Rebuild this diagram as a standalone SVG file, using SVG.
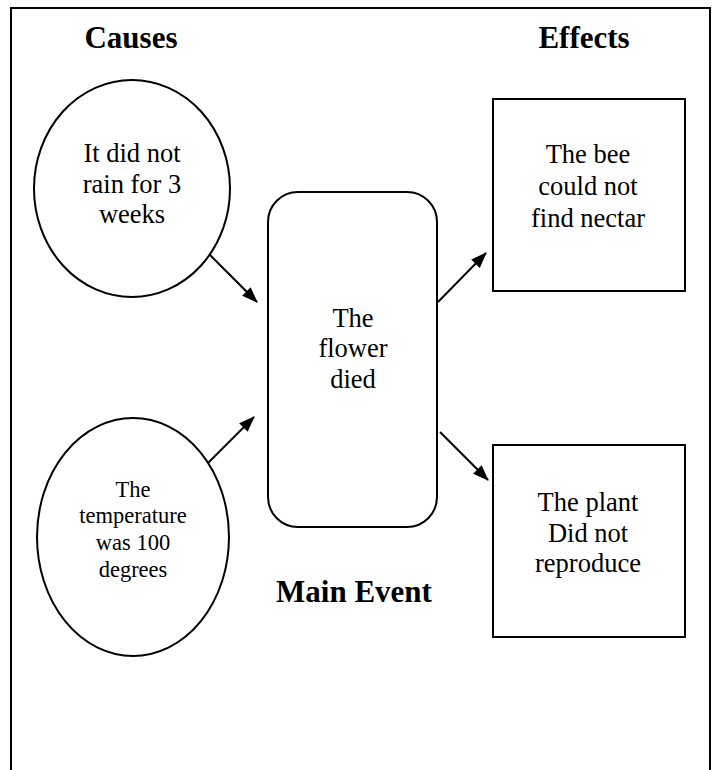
<svg xmlns="http://www.w3.org/2000/svg" width="713" height="770" viewBox="0 0 713 770">
<defs>
<marker id="ah" viewBox="0 0 16 12" refX="15" refY="6" markerWidth="16" markerHeight="12" markerUnits="userSpaceOnUse" orient="auto">
<path d="M0,0 L16,6 L0,12 z" fill="#000"/>
</marker>
<style>
.shape{fill:#fff;stroke:#000;stroke-width:2}
.t{fill:#000;text-anchor:middle}
.body{font-size:26.5px}
.small{font-size:22.5px}
.head{font-size:31px;font-weight:bold}
.conn{stroke:#000;stroke-width:2;fill:none;marker-end:url(#ah)}
</style>
</defs>
<rect width="713" height="770" fill="#fff"/>
<path d="M11,775 L11,8 L710,8 L710,775" fill="none" stroke="#000" stroke-width="2"/>
<g font-family="'Liberation Serif', 'Times New Roman', Times, serif">
<g id="heading-causes"><text class="t head" x="131" y="48">Causes</text></g>
<g id="heading-effects"><text class="t head" x="584" y="48">Effects</text></g>
<g id="heading-main"><text class="t head" x="354" y="602">Main Event</text></g>
<g id="cause1">
<ellipse class="shape" cx="132" cy="188.5" rx="98" ry="108.5"/>
<text class="t body" x="132" y="162">It did not</text>
<text class="t body" x="132" y="193">rain for 3</text>
<text class="t body" x="132" y="223">weeks</text>
</g>
<g id="cause2">
<ellipse class="shape" cx="133" cy="537" rx="96" ry="119"/>
<text class="t small" x="133" y="497">The</text>
<text class="t small" x="133" y="523">temperature</text>
<text class="t small" x="133" y="550">was 100</text>
<text class="t small" x="133" y="577">degrees</text>
</g>
<g id="main-event">
<rect class="shape" x="268" y="192" width="169" height="335" rx="30" ry="30"/>
<text class="t body" x="353" y="327">The</text>
<text class="t body" x="353" y="357">flower</text>
<text class="t body" x="353" y="388">died</text>
</g>
<g id="effect1">
<rect class="shape" x="493" y="99" width="192" height="192"/>
<text class="t body" x="588" y="163">The bee</text>
<text class="t body" x="588" y="195">could not</text>
<text class="t body" x="588" y="227">find nectar</text>
</g>
<g id="effect2">
<rect class="shape" x="493" y="445" width="192" height="192"/>
<text class="t body" x="588" y="511">The plant</text>
<text class="t body" x="588" y="542">Did not</text>
<text class="t body" x="588" y="572">reproduce</text>
</g>
</g>
<g id="connectors">
<line class="conn" x1="210" y1="255" x2="257" y2="302"/>
<line class="conn" x1="208" y1="463" x2="254" y2="417"/>
<line class="conn" x1="438" y1="302" x2="486" y2="253"/>
<line class="conn" x1="440" y1="432" x2="488" y2="480"/>
</g>
</svg>
